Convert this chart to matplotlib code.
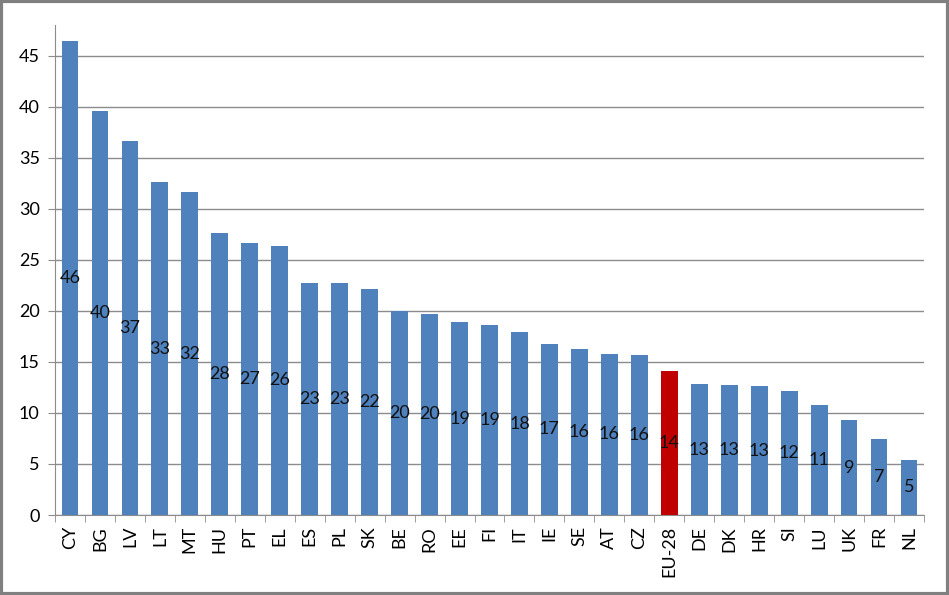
import matplotlib
matplotlib.use("Agg")
import matplotlib.pyplot as plt
from matplotlib.patches import Rectangle
import numpy as np

countries = ["CY", "BG", "LV", "LT", "MT", "HU", "PT", "EL", "ES", "PL", "SK", "BE", "RO", "EE",
             "FI", "IT", "IE", "SE", "AT", "CZ", "EU-28", "DE", "DK", "HR", "SI", "LU", "UK", "FR", "NL"]
values = [46.4, 39.6, 36.6, 32.6, 31.6, 27.6, 26.6, 26.4, 22.7, 22.7, 22.1, 20.0, 19.7, 18.9,
          18.6, 17.9, 16.8, 16.3, 15.8, 15.7, 14.1, 12.8, 12.7, 12.6, 12.1, 10.8, 9.3, 7.4, 5.4]
highlight = "EU-28"

plt.rcParams['font.family'] = ['Lato', 'DejaVu Sans']

fig = plt.figure(figsize=(9.49, 5.95), dpi=100)
ax = fig.add_axes([55 / 949, 80 / 595, (924 - 55) / 949, (515 - 25) / 595])

x = np.arange(len(countries))
colors = ["#C00000" if c == highlight else "#4F81BD" for c in countries]
bars = ax.bar(x, values, width=0.56, color=colors, zorder=3)

for xi, v in zip(x, values):
    ax.text(xi, v / 2, "%.0f" % v, ha="center", va="center", fontsize=13, color="#111111", zorder=4)

ax.set_xlim(-0.5, len(countries) - 0.5)
ax.set_ylim(0, 48)
ax.set_yticks(range(0, 50, 5))
ax.yaxis.grid(True, color="#8c8c8c", linewidth=1, zorder=0)
ax.set_xticks(x)
ax.set_xticklabels(countries, rotation=90, fontsize=13)
ax.set_xticks(np.arange(-0.5, len(countries), 1), minor=True)
ax.tick_params(axis="x", which="major", length=0, pad=8)
ax.tick_params(axis="x", which="minor", length=5, color="#8c8c8c", direction="out")
ax.tick_params(axis="y", labelsize=13, length=5, color="#8c8c8c", pad=6)

for s in ["top", "right"]:
    ax.spines[s].set_visible(False)
for s in ["left", "bottom"]:
    ax.spines[s].set_color("#8c8c8c")

fig.patches.append(Rectangle((0.0015, 0.0025), 0.997, 0.995, transform=fig.transFigure,
                             fill=False, edgecolor="#808080", linewidth=3))

fig.savefig("out.png", dpi=100)
